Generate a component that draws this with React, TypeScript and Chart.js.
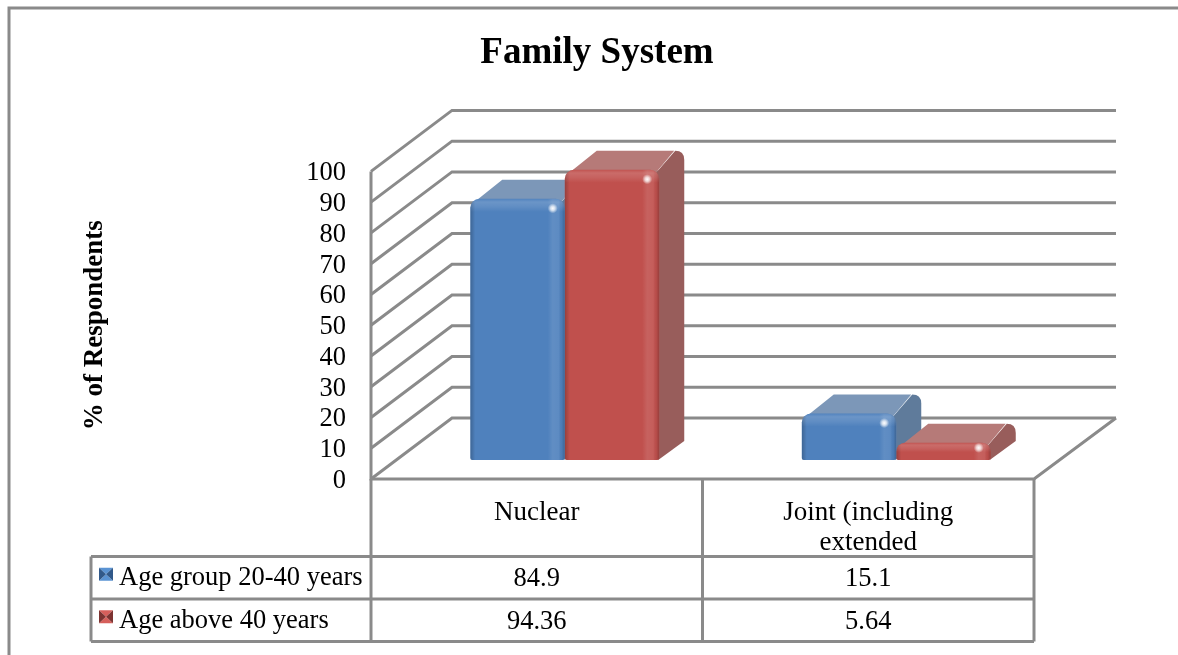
import React, { useEffect, useRef } from "react";
import { Chart, registerables } from "chart.js";

Chart.register(...registerables);

const categories = [["Nuclear"], ["Joint (including", "extended"]];
const seriesNames = ["Age group 20-40 years", "Age above 40 years"];
const youngerGroup = [84.9, 15.1];
const olderGroup = [94.36, 5.64];
const valueTicks = [0, 10, 20, 30, 40, 50, 60, 70, 80, 90, 100];

const FACE = ["#4f81bd", "#c0504d"];
const TOP = ["#7c97b8", "#b67a78"];
const SIDE = ["#5f7b9b", "#985d5b"];
const KEY_LIGHT = ["#5a93d3", "#d65f5b"];
const KEY_DARK = ["#31598a", "#7d3331"];
const LINE = "#8a8a8a";
const LINE_WIDTH = 3;
const SERIF = "'Liberation Serif', 'Times New Roman', serif";

// Projection of the box: wall depth, and where bars stand on the floor.
const WALL_DX = 81;
const WALL_DY = -61;
const BAR_SHIFT_X = 28;
const BAR_SHIFT_Y = -19;
const BAR_DX = 25;
const BAR_DY = -19;
const R = 9;

const line = (ctx: CanvasRenderingContext2D, pts: number[][]) => {
  ctx.beginPath();
  pts.forEach(([x, y], i) => (i ? ctx.lineTo(x, y) : ctx.moveTo(x, y)));
  ctx.stroke();
};

const drawWalls = (chart: any) => {
  const { ctx, scales } = chart;
  const { x, y } = scales;
  ctx.save();
  ctx.strokeStyle = LINE;
  ctx.lineWidth = LINE_WIDTH;
  ctx.lineJoin = "miter";
  valueTicks.forEach((v) => {
    const py = y.getPixelForValue(v);
    line(ctx, [
      [x.left, py],
      [x.left + WALL_DX, py + WALL_DY],
      [x.right + WALL_DX + 1, py + WALL_DY],
    ]);
  });
  const floor = y.getPixelForValue(0);
  line(ctx, [
    [x.left, y.getPixelForValue(100)],
    [x.left, floor],
    [x.right, floor],
    [x.right + WALL_DX + 1, floor + WALL_DY],
  ]);
  ctx.restore();
};

const drawBarDepth = (chart: any) => {
  const { ctx } = chart;
  [0, 1].forEach((ds) => {
    chart.getDatasetMeta(ds).data.forEach((bar: any) => {
      const x0 = bar.x - bar.width / 2;
      const x1 = bar.x + bar.width / 2;
      const top = bar.y;
      const base = bar.base;
      // side wall, with its rounded back corner
      ctx.fillStyle = SIDE[ds];
      ctx.beginPath();
      ctx.moveTo(x1 - 4, top + 4);
      ctx.lineTo(x1 + BAR_DX - R, top + BAR_DY);
      ctx.quadraticCurveTo(x1 + BAR_DX, top + BAR_DY, x1 + BAR_DX, top + BAR_DY + R);
      ctx.lineTo(x1 + BAR_DX, base + BAR_DY);
      ctx.lineTo(x1 - 1, base);
      ctx.closePath();
      ctx.fill();
      // top face
      ctx.fillStyle = TOP[ds];
      ctx.beginPath();
      ctx.moveTo(x0 + 7, top + 1);
      ctx.lineTo(x0 + BAR_DX + 7, top + BAR_DY);
      ctx.lineTo(x1 + BAR_DX - R - 1, top + BAR_DY);
      ctx.lineTo(x1 - 5, top + 5);
      ctx.closePath();
      ctx.fill();
    });
  });
};

const roundedFace = (ctx: CanvasRenderingContext2D, bar: any) => {
  const x0 = bar.x - bar.width / 2;
  ctx.beginPath();
  ctx.roundRect(x0, bar.y, bar.width, bar.base - bar.y, [R, R, 2, 2]);
};

const drawBevels = (chart: any) => {
  const { ctx } = chart;
  [0, 1].forEach((ds) => {
    chart.getDatasetMeta(ds).data.forEach((bar: any) => {
      const w = bar.width;
      const x0 = bar.x - w / 2;
      const x1 = bar.x + w / 2;
      const top = bar.y;
      const h = bar.base - top;
      const band = Math.min(13, h * 0.55);
      ctx.save();
      roundedFace(ctx, bar);
      ctx.clip();

      const across = ctx.createLinearGradient(x0, 0, x1, 0);
      const at = (px: number) => Math.min(1, Math.max(0, px / w));
      across.addColorStop(0, "rgba(0,0,0,0.22)");
      across.addColorStop(at(5), "rgba(0,0,0,0)");
      across.addColorStop(at(w - 17), "rgba(255,255,255,0)");
      across.addColorStop(at(w - 12), "rgba(255,255,255,0.1)");
      across.addColorStop(at(w - 6), "rgba(255,255,255,0.08)");
      across.addColorStop(at(w - 3), "rgba(0,0,0,0.04)");
      across.addColorStop(1, "rgba(0,0,0,0.22)");
      ctx.fillStyle = across;
      ctx.fillRect(x0, top, w, h);

      const down = ctx.createLinearGradient(0, top, 0, top + band);
      down.addColorStop(0, "rgba(255,255,255,0.02)");
      down.addColorStop(0.25, "rgba(255,255,255,0.16)");
      down.addColorStop(0.6, "rgba(255,255,255,0.1)");
      down.addColorStop(1, "rgba(255,255,255,0)");
      ctx.fillStyle = down;
      ctx.fillRect(x0, top, w, band);

      const sx = x1 - 12;
      const sy = top + Math.min(9.5, h * 0.3);
      const glow = ctx.createRadialGradient(sx, sy, 0, sx, sy, 5);
      glow.addColorStop(0, "rgba(255,255,255,1)");
      glow.addColorStop(0.45, "rgba(255,255,255,0.7)");
      glow.addColorStop(1, "rgba(255,255,255,0)");
      ctx.fillStyle = glow;
      ctx.fillRect(sx - 6, sy - 6, 12, 12);
      ctx.restore();
    });
  });
};

const drawKey = (ctx: CanvasRenderingContext2D, ds: number, x: number, y: number) => {
  const s = 14;
  const h = 13;
  const cx = x + s / 2;
  const cy = y + h / 2;
  const tri = (pts: number[][], fill: string) => {
    ctx.fillStyle = fill;
    ctx.beginPath();
    pts.forEach(([a, b], i) => (i ? ctx.lineTo(a, b) : ctx.moveTo(a, b)));
    ctx.closePath();
    ctx.fill();
  };
  tri([[x, y], [x + s, y], [cx, cy]], KEY_LIGHT[ds]);
  tri([[x, y + h], [x + s, y + h], [cx, cy]], KEY_LIGHT[ds]);
  tri([[x, y], [x, y + h], [cx, cy]], KEY_DARK[ds]);
  tri([[x + s, y], [x + s, y + h], [cx, cy]], KEY_DARK[ds]);
};

const drawTable = (chart: any) => {
  const { ctx, scales } = chart;
  const { x, y } = scales;
  const floor = y.getPixelForValue(0);
  const headBottom = floor + 77.5;
  const rowH = 42.5;
  const tableLeft = 91;
  const mid = (x.left + x.right) / 2;
  const bottom = headBottom + rowH * 2;

  ctx.save();
  ctx.strokeStyle = LINE;
  ctx.lineWidth = LINE_WIDTH;
  [x.left, mid, x.right].forEach((c) => line(ctx, [[c, floor], [c, bottom]]));
  line(ctx, [[tableLeft, headBottom], [tableLeft, bottom]]);
  [0, 1, 2].forEach((r) =>
    line(ctx, [[tableLeft, headBottom + r * rowH], [x.right, headBottom + r * rowH]])
  );

  ctx.font = `26.5px ${SERIF}`;
  ctx.textBaseline = "middle";
  chart.data.datasets.forEach((set: any, ds: number) => {
    const cy = headBottom + rowH * (ds + 0.5);
    drawKey(ctx, ds, 99, cy - 10);
    ctx.fillStyle = "#000";
    ctx.textAlign = "left";
    ctx.fillText(set.label, 119, cy + ds);
    ctx.textAlign = "center";
    set.data.forEach((v: number, i: number) => {
      ctx.fillText(String(v), x.getPixelForValue(i), cy + 1 + ds);
    });
  });
  ctx.restore();
};

const drawFrame = (chart: any) => {
  const { ctx, width, height } = chart;
  ctx.save();
  ctx.strokeStyle = LINE;
  ctx.lineWidth = LINE_WIDTH;
  line(ctx, [[9, height], [9, 8], [width, 8]]);
  ctx.restore();
};

const boxPlugin = {
  id: "box3d",
  beforeDatasetsDraw(chart: any) {
    drawFrame(chart);
    drawWalls(chart);
    drawTable(chart);
    chart.ctx.save();
    chart.ctx.translate(BAR_SHIFT_X, BAR_SHIFT_Y);
    drawBarDepth(chart);
  },
  afterDatasetsDraw(chart: any) {
    drawBevels(chart);
    chart.ctx.restore();
  },
};

export default function App() {
  const ref = useRef<HTMLCanvasElement>(null);
  useEffect(() => {
    document.body.style.margin = "0";
    document.body.style.background = "#fff";
    const chart = new Chart(ref.current!, {
      type: "bar",
      data: {
        labels: categories,
        datasets: [
          {
            label: seriesNames[0],
            data: youngerGroup,
            backgroundColor: FACE[0],
            categoryPercentage: 0.57,
            barPercentage: 1,
            borderWidth: 0,
            borderSkipped: false,
            borderRadius: { topLeft: R, topRight: R, bottomLeft: 2, bottomRight: 2 },
            clip: false,
          },
          {
            label: seriesNames[1],
            data: olderGroup,
            backgroundColor: FACE[1],
            categoryPercentage: 0.57,
            barPercentage: 1,
            borderWidth: 0,
            borderSkipped: false,
            borderRadius: { topLeft: R, topRight: R, bottomLeft: 2, bottomRight: 2 },
            clip: false,
          },
        ],
      } as any,
      options: {
        responsive: false,
        animation: false,
        layout: { padding: { left: 16, right: 0, top: 0, bottom: 0 } },
        plugins: {
          legend: { display: false },
          tooltip: { enabled: false },
          title: {
            display: true,
            text: "Family System",
            color: "#000",
            font: { family: SERIF, size: 37, weight: "bold", lineHeight: 1.2 },
            padding: { top: 31, bottom: 96 },
          },
        },
        scales: {
          x: {
            grid: { display: false },
            border: { display: false },
            ticks: {
              color: "#000",
              font: { family: SERIF, size: 27, lineHeight: 1.12 },
              padding: 11,
              autoSkip: false,
              maxRotation: 0,
            },
            afterFit(scale: any) {
              scale.height = 176;
            },
          },
          y: {
            min: 0,
            max: 100,
            afterBuildTicks(scale: any) {
              scale.ticks = valueTicks.map((value) => ({ value }));
            },
            grid: { display: false, tickLength: 0 },
            border: { display: false },
            ticks: {
              color: "#000",
              font: { family: SERIF, size: 26.5 },
              padding: 25,
              autoSkip: false,
              labelOffset: 2,
            },
            title: {
              display: true,
              text: "% of Respondents",
              color: "#000",
              font: { family: SERIF, size: 27, weight: "bold" },
              padding: { top: 63, bottom: 0 },
            },
            afterFit(scale: any) {
              scale.width = 355;
            },
          },
          // empty gutter to the right of the plot, which holds the wall depth
          gutter: {
            position: "right",
            display: true,
            grid: { display: false },
            border: { display: false },
            ticks: { display: false },
            afterFit(scale: any) {
              scale.width = 144;
            },
          },
        },
      } as any,
      plugins: [boxPlugin],
    });
    return () => chart.destroy();
  }, []);
  return <canvas ref={ref} width={1178} height={655} style={{ display: "block" }} />;
}
